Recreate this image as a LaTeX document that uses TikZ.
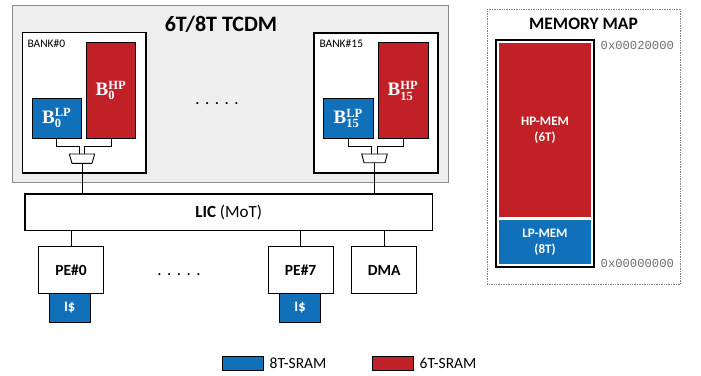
\documentclass[tikz,border=0pt]{standalone}
\usepackage[no-math]{fontspec}
\setmainfont{Carlito}
\newfontfamily\monof{Liberation Mono}
\newfontfamily\serifb{Liberation Serif}
\usetikzlibrary{calc}
\definecolor{sramblue}{RGB}{16,112,186}
\definecolor{sramred}{RGB}{193,32,39}
\definecolor{tcdmgray}{RGB}{238,238,238}
\definecolor{addrgray}{RGB}{110,110,110}
\tikzset{
  bx/.style={draw=black, anchor=north west, inner sep=0pt, outer sep=0pt},
  bankbox/.style={bx, fill=white, line width=1.6pt},
  hpbox/.style={bx, fill=sramred, line width=1pt, text=white},
  lpbox/.style={bx, fill=sramblue, line width=1pt, text=white},
  pebox/.style={bx, fill=white, line width=1pt, font=\fontsize{15.5}{17}\selectfont\bfseries},
  icbox/.style={bx, fill=sramblue, line width=1pt, text=white, font=\fontsize{14.5}{16}\selectfont\bfseries},
  wire/.style={line width=1pt},
  muxline/.style={draw, fill=white, line width=0.9pt, line join=miter},
  blabel/.style={font=\fontsize{19}{21}\selectfont},
  dots/.style={font=\fontsize{14}{16}\selectfont\bfseries, anchor=base}
}
\newcommand{\dotrow}{.\hspace{6pt}.\hspace{6pt}.\hspace{6pt}.\hspace{6pt}.}
\newcommand{\sfx}[1]{\hbox{\fontsize{12.5}{13}\selectfont\serifb\bfseries #1}}
\newcommand{\blab}[2]{{\serifb\bfseries B}$^{\sfx{#1}}_{\sfx{#2}}$}
\begin{document}
\begin{tikzpicture}[x=1pt,y=-1pt]
\useasboundingbox (0,0) rectangle (701,375);
% TCDM
\node[bx, fill=tcdmgray, draw=gray!90, line width=0.8pt, minimum width=436pt, minimum height=177pt] (tcdm) at (12.7,5) {};
\node[font=\fontsize{22}{24}\selectfont\bfseries, anchor=base] (tcdmt) at (221,31) {6T/8T TCDM};
% bank 0
\node[bankbox, minimum width=123.4pt, minimum height=140.4pt] (bank0) at (22.3,32.3) {};
\node[anchor=base west, font=\fontsize{11.5}{13}\selectfont, inner sep=0pt] (bank0t) at (27.3,47.7) {BANK\#0};
\node[hpbox, minimum width=48.6pt, minimum height=95.6pt, blabel] (b0hp) at (86.7,42.7) {\blab{HP}{0}};
\node[lpbox, minimum width=49pt, minimum height=40.3pt, blabel] (b0lp) at (32.3,98) {\blab{LP}{0}};
\coordinate (mux0) at (82,154);
\coordinate (mux0b) at (82,163.3);
\draw[muxline] ($(mux0)+(-12.7,0)$) -- ($(mux0)+(12.7,0)$) -- ($(mux0b)+(10,0)$) -- ($(mux0b)+(-10,0)$) -- cycle;
% bank 15
\node[bankbox, minimum width=124pt, minimum height=140pt] (bank15) at (314,32.7) {};
\node[anchor=base west, font=\fontsize{11.5}{13}\selectfont, inner sep=0pt] (bank15t) at (319.3,47.5) {BANK\#15};
\node[hpbox, minimum width=50pt, minimum height=96pt, blabel] (b15hp) at (378,42.7) {\blab{HP}{15}};
\node[lpbox, minimum width=50pt, minimum height=40.7pt, blabel] (b15lp) at (323.3,98) {\blab{LP}{15}};
\coordinate (mux15) at (374.5,154);
\coordinate (mux15b) at (374.5,162.7);
\draw[muxline] ($(mux15)+(-12.8,0)$) -- ($(mux15)+(12.8,0)$) -- ($(mux15b)+(10.5,0)$) -- ($(mux15b)+(-10.5,0)$) -- cycle;
\node[dots] (tdots) at (217,104) {\dotrow};
% bank wires
\draw[wire] (b0lp.south) -- ++(0,8) -| ($(mux0)+(-2.7,0)$);
\draw[wire] (b0hp.south) -- ++(0,8) -| ($(mux0)+(2.7,0)$);
\draw[wire] (b15lp.south) -- ++(0,8) -| ($(mux15)+(-3.5,0)$);
\draw[wire] (b15hp.south) -- ++(0,8) -| ($(mux15)+(3,0)$);
% LIC
\node[bx, fill=white, line width=1.2pt, minimum width=407.7pt, minimum height=36.7pt] (lic) at (25,194) {};
\node[font=\fontsize{17}{19}\selectfont] (lict) at (228.7,212.3) {\textbf{LIC} (MoT)};
\draw[wire] (mux0b) -- (mux0b |- lic.north);
\draw[wire] (mux15b) -- (mux15b |- lic.north);
% PEs
\node[pebox, minimum width=65.4pt, minimum height=47pt] (pe0) at (38.3,246.7) {PE\#0};
\node[icbox, minimum width=40.7pt, minimum height=28.6pt] (ic0) at (49.3,293.7) {I\$};
\node[pebox, minimum width=65.3pt, minimum height=47pt] (pe7) at (268,246.7) {PE\#7};
\node[icbox, minimum width=41.4pt, minimum height=28.6pt] (ic7) at (279.3,293.7) {I\$};
\node[pebox, minimum width=65pt, minimum height=47pt] (dma) at (351.7,246.7) {DMA};
\node[dots] (bdots) at (179,275.5) {\dotrow};
\draw[wire] (pe0.north) -- (pe0.north |- lic.south);
\draw[wire] (pe7.north) -- (pe7.north |- lic.south);
\draw[wire] (dma.north) -- (dma.north |- lic.south);
% memory map
\node[bx, draw=gray, densely dotted, line width=0.7pt, minimum width=193.4pt, minimum height=274.7pt] (mmap) at (487.3,9.3) {};
\node[font=\fontsize{17.5}{19}\selectfont\bfseries, anchor=base] (mmapt) at (583.5,29.5) {MEMORY MAP};
\node[bx, line width=2pt, minimum width=98.6pt, minimum height=227.3pt] (mmout) at (495.7,40) {};
\node[hpbox, draw=none, minimum width=91.4pt, minimum height=174.6pt, font=\fontsize{13}{16}\selectfont\bfseries, align=center] (hpmem) at (499.3,42.7) {HP-MEM\\(6T)};
\node[lpbox, draw=none, minimum width=91.4pt, minimum height=44pt, font=\fontsize{13}{16}\selectfont\bfseries, align=center] (lpmem) at (499.3,220) {LP-MEM\\(8T)};
\node[anchor=west, font=\monof\fontsize{12.2}{13}\selectfont, text=addrgray, inner sep=0pt] (addrhi) at (600.5,45) {0x00020000};
\node[anchor=west, font=\monof\fontsize{12.2}{13}\selectfont, text=addrgray, inner sep=0pt] (addrlo) at (600.5,263) {0x00000000};
% legend
\node[bx, fill=sramblue, line width=0.8pt, minimum width=41.3pt, minimum height=13.3pt] (leg1) at (222,356.7) {};
\node[anchor=west, font=\fontsize{15.5}{17}\selectfont, inner sep=0pt] (leg1t) at (269.5,363.3) {8T-SRAM};
\node[bx, fill=sramred, line width=0.8pt, minimum width=40.6pt, minimum height=13.3pt] (leg2) at (372.7,356.7) {};
\node[anchor=west, font=\fontsize{15.5}{17}\selectfont, inner sep=0pt] (leg2t) at (419.5,363.3) {6T-SRAM};
\end{tikzpicture}
\end{document}
